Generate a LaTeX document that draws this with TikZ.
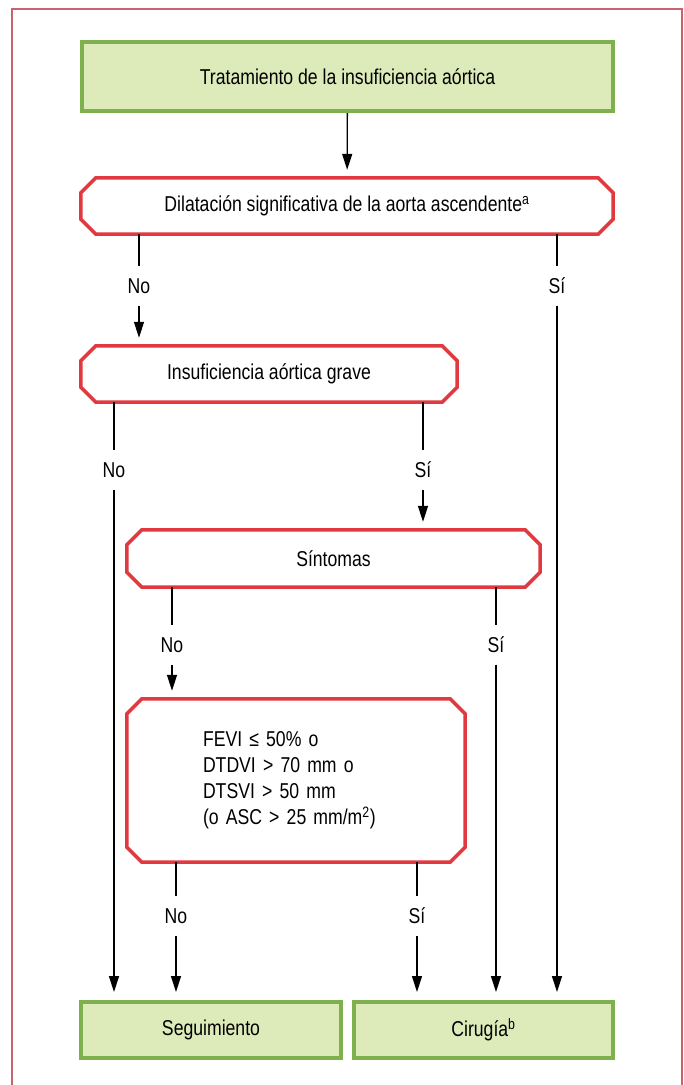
\documentclass[tikz,border=0pt]{standalone}
\usepackage{fontspec}
\setmainfont{Liberation Sans}[FakeStretch=0.82]
\usetikzlibrary{arrows.meta}

\definecolor{boxgreen}{HTML}{7FB04E}
\definecolor{fillgreen}{HTML}{DDEAB9}
\definecolor{boxred}{HTML}{E0393F}
\definecolor{framered}{HTML}{C8646E}

\newcommand{\chamf}{15pt}
\tikzset{
    greenbox/.style={draw=boxgreen,fill=fillgreen,line width=4pt,inner sep=0pt},
    redbox/.style={inner sep=0pt,append after command={\pgfextra{
        \draw[boxred,line width=3.5pt]
            ([xshift=\chamf]\tikzlastnode.north west) -- ([xshift=-\chamf]\tikzlastnode.north east)
            -- ([yshift=-\chamf]\tikzlastnode.north east) -- ([yshift=\chamf]\tikzlastnode.south east)
            -- ([xshift=-\chamf]\tikzlastnode.south east) -- ([xshift=\chamf]\tikzlastnode.south west)
            -- ([yshift=\chamf]\tikzlastnode.south west) -- ([yshift=-\chamf]\tikzlastnode.north west) -- cycle;}}},
    answer/.style={inner sep=0pt,minimum height=39pt,text height=15pt,text depth=0pt},
    arr/.style={line width=1.3pt,-{Triangle[length=16pt,width=10pt]},shorten >=8pt},
    link/.style={line width=1.3pt}
}

\begin{document}
\begin{tikzpicture}[x=1pt,y=-1pt,font=\fontsize{21.5}{26}\selectfont]
    \useasboundingbox (0,0) rectangle (684,1085);
    \draw[framered,line width=1.6pt] (12,1085) -- (12,9) -- (682,9) -- (682,1085);

    % boxes
    \node[greenbox,minimum width=531pt,minimum height=69pt] (trat) at (347.5,76.5) {Tratamiento de la insuficiencia aórtica};
    \node[redbox,minimum width=532pt,minimum height=56pt] (dil) at (347,206) {Dilatación significativa de la aorta ascendente\textsuperscript{a}};
    \node[redbox,minimum width=376pt,minimum height=56pt] (ins) at (269,374) {Insuficiencia aórtica grave};
    \node[redbox,minimum width=413pt,minimum height=57pt] (sin) at (333.5,558.5) {Síntomas};
    \node[redbox,minimum height=163pt,inner xsep=76pt,text width=186pt,align=left] (fevi) at (296,780.5)
        {FEVI ≤ 50\% o\\DTDVI > 70 mm o\\DTSVI > 50 mm\\(o ASC > 25 mm/m\textsuperscript{2})};
    \node[greenbox,minimum width=260pt,minimum height=56pt] (seg) at (211,1030) {Seguimiento};
    \node[greenbox,minimum width=259pt,minimum height=56pt] (cir) at (483.5,1030) {Cirugía\textsuperscript{b}};

    % answers
    \node[answer] (dilno) at (139,286) {No};
    \node[answer] (dilsi) at (557,286) {Sí};
    \node[answer] (insno) at (114,470) {No};
    \node[answer] (inssi) at (423,470) {Sí};
    \node[answer] (sinno) at (172,645) {No};
    \node[answer] (sinsi) at (496,645) {Sí};
    \node[answer] (fevino) at (176,916) {No};
    \node[answer] (fevisi) at (417,916) {Sí};

    % connectors
    \draw[arr] (trat) -- (dil);
    \foreach \a/\b/\c in {dil/dilno/ins, dil/dilsi/cir, ins/insno/seg, ins/inssi/sin,
                          sin/sinno/fevi, sin/sinsi/cir, fevi/fevino/seg, fevi/fevisi/cir} {
        \draw[link] (\a.south -| \b) -- (\b);
        \draw[arr] (\b) -- (\b |- \c.north);
    }
\end{tikzpicture}
\end{document}
